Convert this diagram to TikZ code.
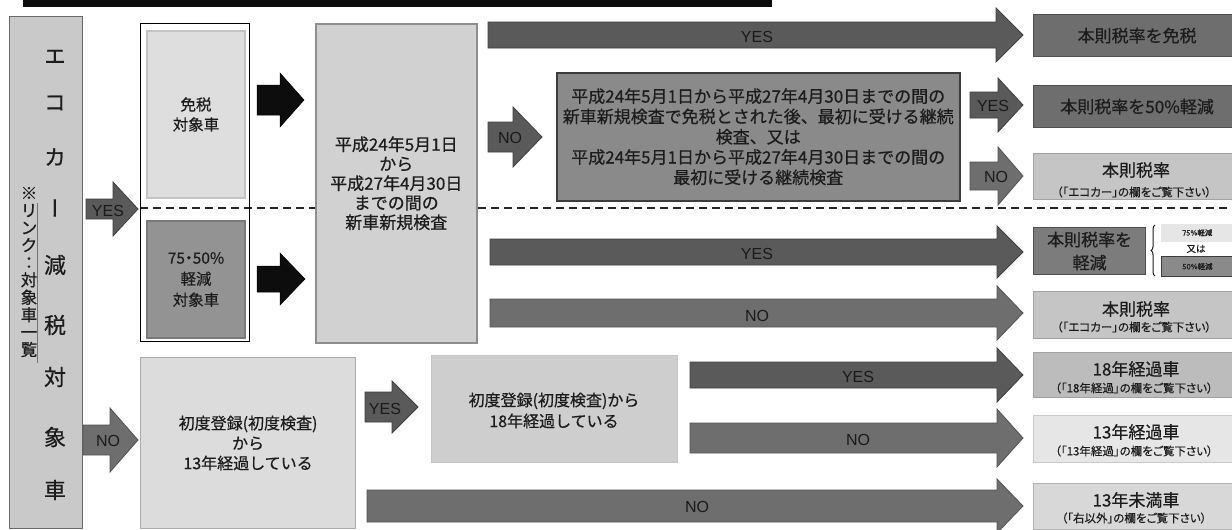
\documentclass[tikz,border=0pt]{standalone}
\usepackage{fontspec}
\setmainfont{Noto Sans CJK JP}[FakeBold=0.6]
\newfontfamily\jp{Noto Sans CJK JP}[FakeBold=0.6]
\newfontfamily\jpp{Noto Sans CJK JP}[FakeBold=0.4,RawFeature=+palt]
\newfontfamily\jpv{Noto Sans CJK JP}[FakeBold=0.6,RawFeature=+vert]
\newfontfamily\lat{Liberation Sans}
\usetikzlibrary{decorations.pathreplacing}
\definecolor{txt}{HTML}{1C1C1C}
\definecolor{lbltxt}{HTML}{1A1A1A}
\definecolor{ecofill}{HTML}{C9C9C9}
\definecolor{ecoline}{HTML}{6A6A6A}
\definecolor{menfill}{HTML}{DEDEDE}
\definecolor{menline}{HTML}{C4C4C4}
\definecolor{keifill}{HTML}{939393}
\definecolor{keiline}{HTML}{7A7A7A}
\definecolor{bigfill}{HTML}{D1D1D1}
\definecolor{bigline}{HTML}{8E8E8E}
\definecolor{medfill}{HTML}{8A8A8A}
\definecolor{medline}{HTML}{3C3C3C}
\definecolor{rdark}{HTML}{6E6E6E}
\definecolor{rdarkline}{HTML}{505050}
\definecolor{rlight}{HTML}{C5C5C5}
\definecolor{rlightline}{HTML}{A2A2A2}
\definecolor{rfour}{HTML}{7C7C7C}
\definecolor{rsix}{HTML}{BCBCBC}
\definecolor{rseven}{HTML}{E6E6E6}
\definecolor{rsevenline}{HTML}{C8C8C8}
\definecolor{reight}{HTML}{D8D8D8}
\definecolor{reightline}{HTML}{B2B2B2}
\definecolor{bthirteen}{HTML}{DCDCDC}
\definecolor{bthirteenline}{HTML}{ABABAB}
\definecolor{beighteen}{HTML}{CECECE}
\definecolor{arrdark}{HTML}{5A5A5A}
\definecolor{arrdarkline}{HTML}{3E3E3E}
\definecolor{arrmid}{HTML}{6E6E6E}
\definecolor{arrmidline}{HTML}{525252}
% #1 style, #2 x start, #3 head start, #4 tip, #5 y centre, #6 half shaft, #7 half head
\newcommand{\blockarr}[7]{%
  \filldraw[#1] (#2,{#5-#6}) -- (#3,{#5-#6}) -- (#3,{#5-#7}) -- (#4,#5)
    -- (#3,{#5+#7}) -- (#3,{#5+#6}) -- (#2,{#5+#6}) -- cycle;}
\begin{document}
\begin{tikzpicture}[x=1pt,y=-1pt,
  box/.style={rectangle,inner sep=0pt,anchor=north west,align=center,text=txt,line width=1.2pt},
  jt/.style={align=center,text=txt,inner sep=0pt},
  lab/.style={font=\lat\fontsize{16}{16}\selectfont,text=lbltxt,inner sep=0pt},
  sub/.style={jt,font=\jpp\fontsize{11.5}{11.5}\selectfont},
  head/.style={jt,font=\jp\fontsize{17}{17}\selectfont},
  darr/.style={fill=arrdark,draw=arrdarkline,line width=0.8pt},
  marr/.style={fill=arrmid,draw=arrmidline,line width=0.8pt},
  barr/.style={fill=black!95,draw=black,line width=0.5pt},
  sep/.style={draw=black!85,line width=2.5pt,dash pattern=on 8pt off 5pt}]
\useasboundingbox (0,0) rectangle (1232,530);
\clip (0,0) rectangle (1232,530);
% title bar
\fill[black!95] (23,-2) rectangle (772,7);
% dashed separator
\coordinate (dstart) at (140,208);
\coordinate (dend) at (1232,208);
\draw[sep] (dstart) -- (dend);
% left column
\node[box,fill=ecofill,draw=ecoline,line width=1pt,minimum width=73pt,minimum height=512pt] (eco) at (9,16) {};
\foreach \ch/\yy [count=\i] in {エ/57,コ/103,カ/157,ー/208,減/265,税/325,対/377,象/437,車/490}
  \node[jt,font=\jpv\fontsize{22}{22}\selectfont] (ec\i) at (55,\yy) {\ch};
\node[jt,font=\jp\fontsize{16.5}{17.4}\selectfont] (link) at (29,272) {※\\リ\\ン\\ク\\：\\対\\象\\車\\一\\覧};
\draw[black!55,line width=0.8pt] (37.5,203) -- (37.5,363);
% group box
\node[box,draw=black,line width=1.4pt,minimum width=109pt,minimum height=318pt] (grp) at (140,23) {};
\node[box,fill=menfill,draw=menline,line width=2pt,minimum width=98pt,minimum height=167pt,font=\jp\fontsize{15.5}{20}\selectfont] (men) at (146,30) {免税\\対象車};
\node[box,fill=keifill,draw=keiline,line width=2pt,minimum width=98pt,minimum height=117pt,font=\jpp\fontsize{15.5}{21}\selectfont] (kei) at (146,220) {75・50\%\\軽減\\対象車};
% big period box
\node[box,fill=bigfill,draw=bigline,line width=1.5pt,minimum width=161pt,minimum height=319pt,font=\jp\fontsize{17}{19.5}\selectfont] (big) at (315,23) {平成24年5月1日\\から\\平成27年4月30日\\までの間の\\新車新規検査};
% medium box
\node[box,fill=medfill,draw=medline,line width=1.5pt,minimum width=403pt,minimum height=128pt,font=\jp\fontsize{17}{20.3}\selectfont] (mid) at (556,72) {平成24年5月1日から平成27年4月30日までの間の\\新車新規検査で免税とされた後、最初に受ける継続\\検査、又は\\平成24年5月1日から平成27年4月30日までの間の\\最初に受ける継続検査};
% 13 / 18 year boxes
\node[box,fill=bthirteen,draw=bthirteenline,line width=1.2pt,minimum width=215pt,minimum height=171pt,font=\jp\fontsize{16}{20}\selectfont] (y13) at (140,357) {初度登録(初度検査)\\から\\13年経過している};
\node[box,fill=beighteen,draw=beighteen!95!black,line width=0.6pt,minimum width=246pt,minimum height=107pt] (y18) at (431,355) {};
\node[jt,font=\jp\fontsize{16}{21}\selectfont] (y18t) at (554,410.5) {初度登録(初度検査)から\\18年経過している};
% right result boxes
\node[box,fill=rdark,draw=rdarkline,minimum width=207pt,minimum height=42pt,font=\jp\fontsize{17}{17}\selectfont] (r1) at (1033,14) {本則税率を免税};
\node[box,fill=rdark,draw=rdarkline,minimum width=207pt,minimum height=42pt,font=\jp\fontsize{17}{17}\selectfont] (r2) at (1033,85) {本則税率を50\%軽減};
\node[box,fill=rlight,draw=rlightline,minimum width=207pt,minimum height=46pt] (r3) at (1033,153) {};
\node[head] (r3a) at (1136,170) {本則税率};
\node[sub] (r3b) at (1134,192) {（「エコカー」の欄をご覧下さい）};
\node[box,fill=rfour,draw=rdarkline,minimum width=112pt,minimum height=47pt,font=\jp\fontsize{17}{23}\selectfont] (r4) at (1033,227) {本則税率を\\軽減};
\draw[txt,line width=1pt,decorate,decoration={brace,amplitude=4pt}] (1155,276) -- (1155,225);
\node[box,fill=rseven,draw=rseven,line width=0.5pt,minimum width=72pt,minimum height=17pt,font=\jpp\fontsize{7.5}{7.5}\selectfont] (s75) at (1161,224) {75\%軽減};
\node[jt,font=\jp\fontsize{9.5}{9.5}\selectfont] (sor) at (1196,249) {又は};
\node[box,fill=medfill,draw=medline,line width=1pt,minimum width=72pt,minimum height=20pt,font=\jpp\fontsize{7.5}{7.5}\selectfont] (s50) at (1161,256) {50\%軽減};
\node[box,fill=rlight,draw=rlightline,minimum width=207pt,minimum height=47pt] (r5) at (1033,291) {};
\node[head] (r5a) at (1136,309) {本則税率};
\node[sub] (r5b) at (1134,327) {（「エコカー」の欄をご覧下さい）};
\node[box,fill=rsix,draw=rlightline,minimum width=207pt,minimum height=45pt] (r6) at (1033,352) {};
\node[head] (r6a) at (1136,369) {18年経過車};
\node[sub] (r6b) at (1134,388) {（「18年経過」の欄をご覧下さい）};
\node[box,fill=rseven,draw=rsevenline,minimum width=207pt,minimum height=47pt] (r7) at (1033,415) {};
\node[head] (r7a) at (1136,432) {13年経過車};
\node[sub] (r7b) at (1134,451) {（「13年経過」の欄をご覧下さい）};
\node[box,fill=reight,draw=reightline,minimum width=207pt,minimum height=46pt] (r8) at (1033,483) {};
\node[head] (r8a) at (1136,500) {13年未満車};
\node[sub] (r8b) at (1134,518) {（「右以外」の欄をご覧下さい）};
% block arrows
\blockarr{darr}{86}{113}{138}{209}{10}{27}
\node[lab] (ayes) at (108,211) {YES};
\blockarr{marr}{83}{110}{138}{440}{15}{32}
\node[lab] (ano) at (108,441) {NO};
\blockarr{barr}{257}{280}{304}{100}{15}{27}
\blockarr{barr}{257}{280}{305}{279}{13}{26}
\blockarr{darr}{488}{996}{1023}{35}{13}{27}
\node[lab] (l1) at (757,37) {YES};
\blockarr{darr}{488}{513}{542}{137}{15}{30}
\node[lab] (l2) at (510,138) {NO};
\blockarr{darr}{970}{998}{1023}{105}{13}{27}
\node[lab] (l3) at (993,106) {YES};
\blockarr{marr}{970}{998}{1023}{176}{14}{29}
\node[lab] (l4) at (996,177) {NO};
\blockarr{darr}{490}{997}{1023}{252}{13}{26}
\node[lab] (l5) at (757,254) {YES};
\blockarr{marr}{490}{997}{1023}{313}{14}{27}
\node[lab] (l6) at (757,316) {NO};
\blockarr{darr}{365}{392}{418}{407}{15}{26}
\node[lab] (l7) at (385,409) {YES};
\blockarr{darr}{690}{997}{1023}{375}{13}{27}
\node[lab] (l8) at (858,377) {YES};
\blockarr{marr}{690}{997}{1023}{438}{15}{29}
\node[lab] (l9) at (858,440) {NO};
\blockarr{marr}{367}{997}{1023}{506}{16}{27}
\node[lab] (l10) at (697,507) {NO};
\end{tikzpicture}
\end{document}
